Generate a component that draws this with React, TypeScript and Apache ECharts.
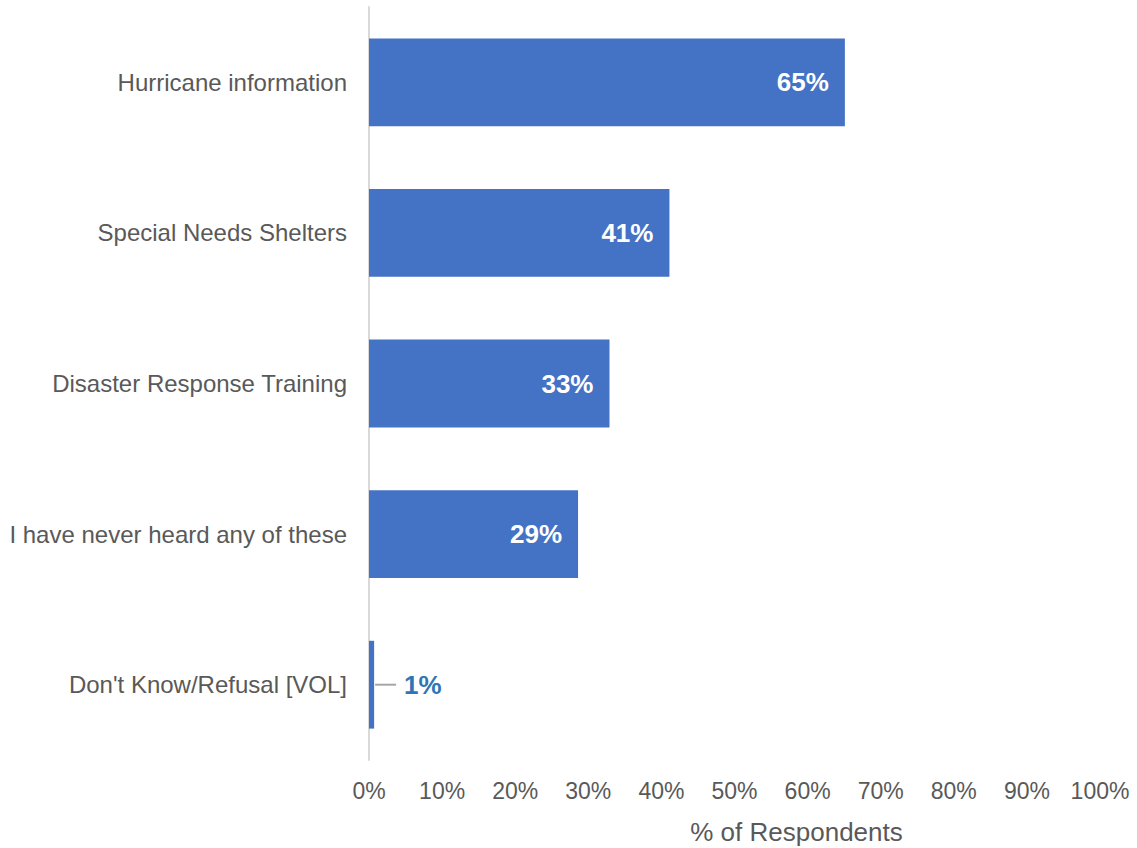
import React, { useEffect, useRef } from "react";
import * as echarts from "echarts";

const categories = [
  "Hurricane information",
  "Special Needs Shelters",
  "Disaster Response Training",
  "I have never heard any of these",
  "Don't Know/Refusal [VOL]",
];
const values = [65.1, 41.1, 32.9, 28.6, 0.7];
const valueLabels = ["65%", "41%", "33%", "29%", "1%"];
const axisTicks = [0, 10, 20, 30, 40, 50, 60, 70, 80, 90, 100];

export default function App() {
  const ref = useRef<HTMLDivElement>(null);
  useEffect(() => {
    if (!ref.current) return;
    const chart = echarts.init(ref.current, undefined, { renderer: "svg" });
    const font = "Liberation Sans, Arial, sans-serif";
    const data = values.map((v, i) => {
      const small = v < 5;
      return {
        value: v,
        label: small
          ? {
              show: true,
              position: "right",
              distance: 30,
              color: "#2e75b6",
              fontSize: 26,
              fontWeight: "bold",
              fontFamily: font,
              formatter: () => valueLabels[i],
            }
          : {
              show: true,
              position: "insideRight",
              distance: 16,
              color: "#ffffff",
              fontSize: 26,
              fontWeight: "bold",
              fontFamily: font,
              formatter: () => valueLabels[i],
            },
      };
    });
    chart.setOption({
      animation: false,
      grid: {
        left: 369,
        right: 37,
        top: 7,
        bottom: 88,
        containLabel: false,
        outerBoundsMode: "none",
      },
      xAxis: {
        type: "value",
        min: 0,
        max: 100,
        interval: 10,
        axisLine: { show: false },
        axisTick: { show: false },
        splitLine: { show: false },
        axisLabel: {
          color: "#595959",
          fontSize: 23,
          fontFamily: font,
          margin: 19,
          formatter: (v: number) => (axisTicks.includes(v) ? v + "%" : ""),
        },
        name: "% of Respondents",
        nameLocation: "middle",
        nameGap: 59,
        nameTextStyle: {
          color: "#595959",
          fontSize: 26,
          fontFamily: font,
          padding: [0, 0, 0, 124],
        },
      },
      yAxis: {
        type: "category",
        data: categories,
        inverse: true,
        axisLine: { show: true, lineStyle: { color: "#d9d9d9", width: 2 } },
        axisTick: { show: false },
        axisLabel: {
          color: "#595959",
          fontSize: 24,
          fontFamily: font,
          margin: 22,
        },
      },
      series: [
        {
          type: "bar",
          data,
          barWidth: "58.3%",
          itemStyle: { color: "#4472c4" },
          z: 3,
        },
      ],
    });
    const lines: any[] = [];
    values.forEach((v, i) => {
      if (v < 5) {
        const p0 = chart.convertToPixel({ gridIndex: 0 }, [v, categories[i]]);
        lines.push({
          type: "line",
          shape: { x1: p0[0] + 1, y1: p0[1], x2: p0[0] + 22, y2: p0[1] },
          style: { stroke: "#a6a6a6", lineWidth: 2 },
          z: 10,
        });
      }
    });
    chart.setOption({ graphic: lines });
    return () => chart.dispose();
  }, []);
  return (
    <div
      ref={ref}
      style={{ position: "absolute", left: 0, top: 0, width: 1137, height: 848 }}
    />
  );
}
